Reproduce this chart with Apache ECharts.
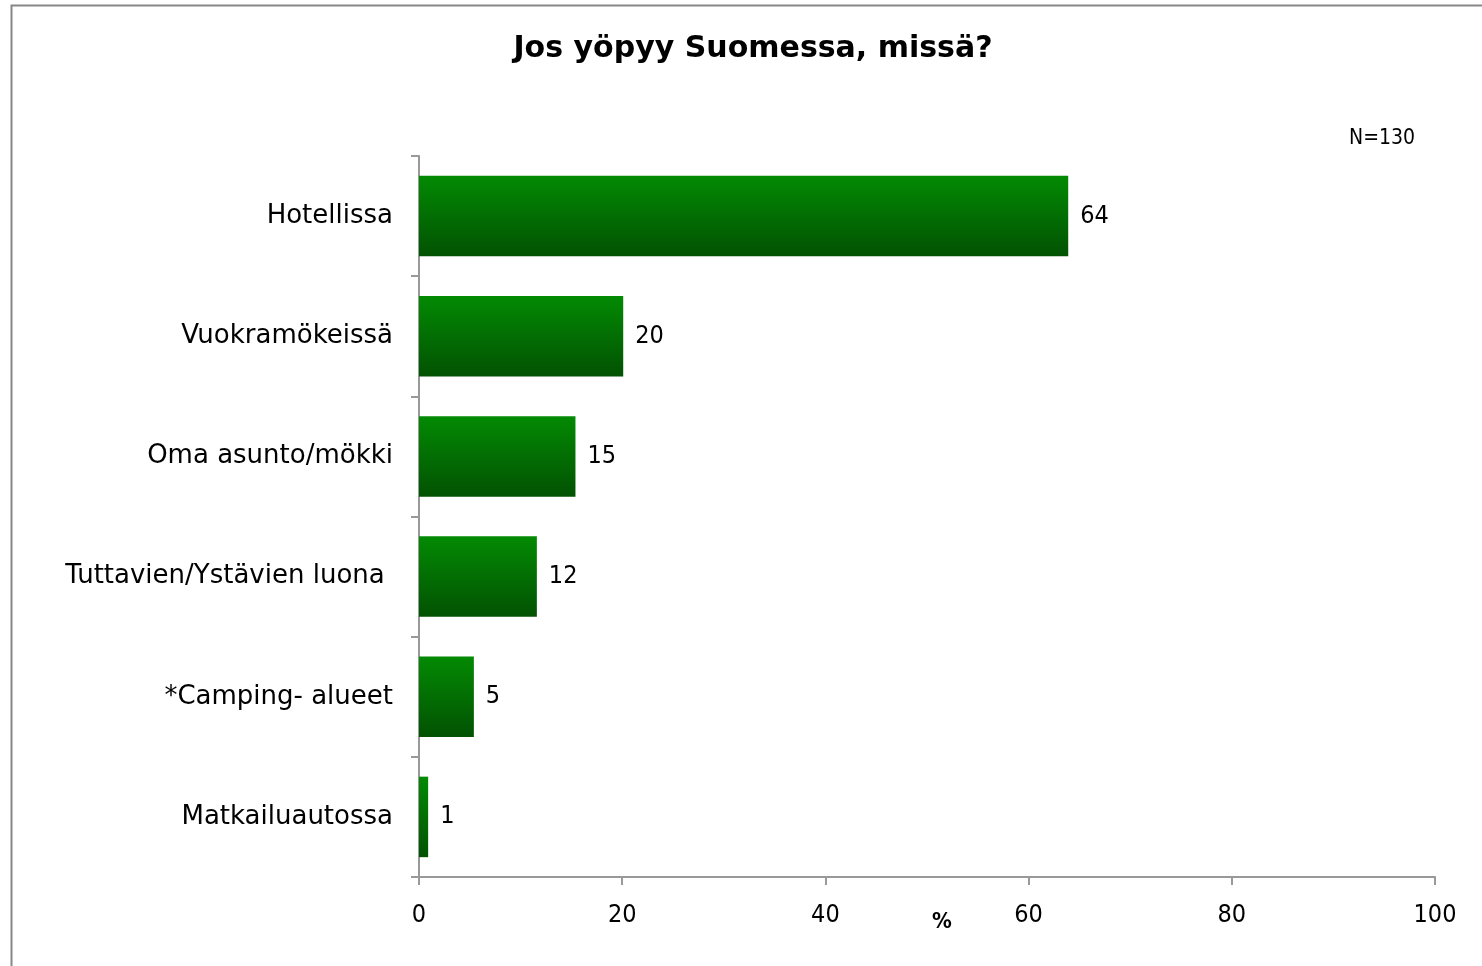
<!DOCTYPE html>
<html>
<head>
<meta charset="utf-8">
<script src="https://cdn.jsdelivr.net/npm/echarts@6/dist/echarts.min.js"></script>
<style>
  html, body { margin: 0; padding: 0; background: #fff; }
  #main { width: 1482px; height: 966px; }
</style>
</head>
<body>
<div id="main"></div>
<script>
// data
const categories = ['Hotellissa', 'Vuokramökeissä', 'Oma asunto/mökki', 'Tuttavien/Ystävien luona ', '*Camping- alueet', 'Matkailuautossa'];
const values = [63.9, 20.1, 15.4, 11.6, 5.4, 0.9];
const xTicks = [0, 20, 40, 60, 80, 100];

const font = '"DejaVu Sans Condensed", "DejaVu Sans", sans-serif';
const wideFont = '"DejaVu Sans", sans-serif';
const chart = echarts.init(document.getElementById('main'));

chart.setOption({
  backgroundColor: '#fff',
  animation: false,
  graphic: [
    // outer frame of the chart area
    {
      type: 'rect',
      shape: { x: 11.5, y: 5.5, width: 1500, height: 1000 },
      style: { fill: 'none', stroke: '#888', lineWidth: 2 },
      silent: true
    },
    {
      type: 'text', left: 1349, top: 128,
      style: { text: 'N=130', font: '21px ' + font, fill: '#000' }
    },
    {
      type: 'text', left: 932, top: 911,
      style: { text: '%', font: 'bold 22px ' + font, fill: '#000' }
    }
  ],
  title: {
    text: 'Jos yöpyy Suomessa, missä?',
    left: 748, top: 29, textAlign: 'center',
    textStyle: { fontFamily: wideFont, fontSize: 30, fontWeight: 'bold', color: '#000' }
  },
  grid: { left: 419, right: 47, top: 156, bottom: 89, containLabel: false },
  xAxis: {
    type: 'value', min: 0, max: 100, interval: 20,
    axisLine: { show: true, lineStyle: { color: '#999', width: 2 } },
    axisTick: { show: true, length: 8, lineStyle: { color: '#999', width: 2 } },
    splitLine: { show: false },
    axisLabel: {
      margin: 26, color: '#000', fontFamily: font, fontSize: 25,
      formatter: v => xTicks.includes(v) ? String(v) : ''
    }
  },
  yAxis: {
    type: 'category', inverse: true, data: categories,
    axisLine: { show: true, lineStyle: { color: '#999', width: 2 } },
    axisTick: { show: true, length: 8, lineStyle: { color: '#999', width: 2 } },
    axisLabel: {
      margin: 26, color: '#000', fontFamily: wideFont, fontSize: 26,
      padding: [8, 0, 0, 0]
    }
  },
  series: [{
    type: 'bar',
    data: values,
    barCategoryGap: '33%',
    itemStyle: {
      color: new echarts.graphic.LinearGradient(0, 0, 0, 1, [
        { offset: 0, color: '#038a03' },
        { offset: 1, color: '#025202' }
      ])
    },
    label: {
      show: true, position: 'right', distance: 12,
      color: '#000', fontFamily: font, fontSize: 25,
      padding: [8, 0, 0, 0],
      formatter: p => Math.round(p.value)
    }
  }]
});
</script>
</body>
</html>
